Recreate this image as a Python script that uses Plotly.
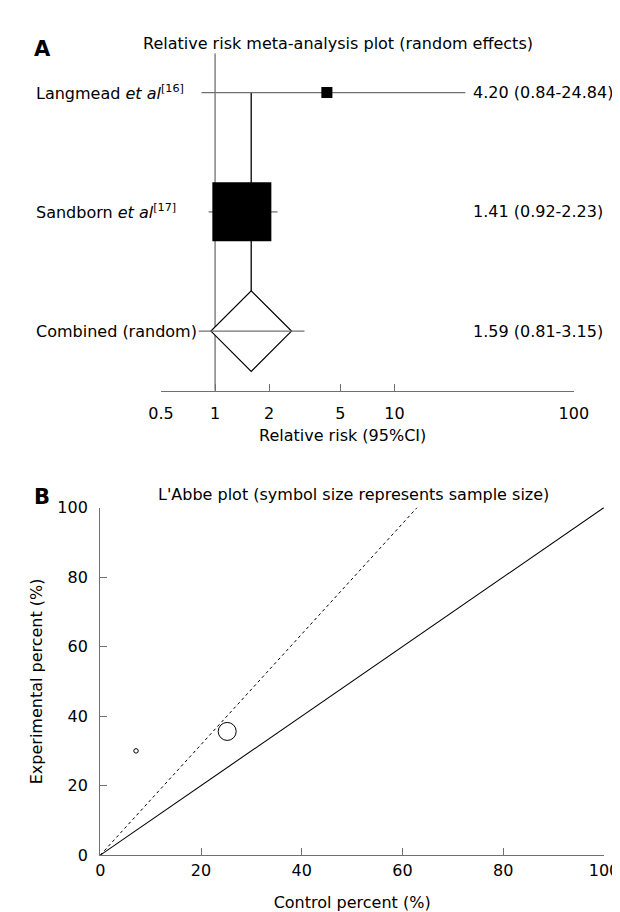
import math
import plotly.graph_objects as go

# ---------------- data ----------------
study_names = ["Langmead <i>et al</i><sup>[16]</sup>", "Sandborn <i>et al</i><sup>[17]</sup>"]
rr = [4.20, 1.41]
rr_lo = [0.84, 0.92]
rr_hi = [24.84, 2.23]
weights = [3.4, 96.6]          # relative weights (box area)
pooled_name = "Combined (random)"
pooled_rr = 1.59
pooled_lo = 0.81
pooled_hi = 3.15
rr_ticks = [0.5, 1, 2, 5, 10, 100]
rr_ticktext = ["0.5", "1", "2", "5", "10", "100"]

control_pct = [7.1, 25.2]
experimental_pct = [30.0, 35.6]
sample_size = [80, 1280]
pct_ticks = [0, 20, 40, 60, 80, 100]

# ---------------- layout helpers ----------------
W, H = 620, 912
FONT = "DejaVu Sans"
GRAY = "#707070"


def px(x):
    return x / W


def py(y):
    return 1 - y / H


fig = go.Figure()

n = len(rr)
rows = [n + 1 - i for i in range(n)]  # 3, 2
pooled_row = 1

# null line at RR = 1
fig.add_trace(go.Scatter(x=[1, 1], y=[0.5, 3.33], mode="lines",
                         line=dict(color=GRAY, width=1.3), xaxis="x", yaxis="y",
                         hoverinfo="skip"))
# pooled estimate vertical line
fig.add_trace(go.Scatter(x=[pooled_rr, pooled_rr], y=[pooled_row, rows[0]], mode="lines",
                         line=dict(color="black", width=1.3), xaxis="x", yaxis="y",
                         hoverinfo="skip"))
# study CIs
for i in range(n):
    fig.add_trace(go.Scatter(x=[rr_lo[i], rr_hi[i]], y=[rows[i], rows[i]], mode="lines",
                             line=dict(color=GRAY, width=1.3), xaxis="x", yaxis="y",
                             hoverinfo="skip"))
# study boxes (size ~ sqrt weight)
wmax = max(weights)
box_sizes = [59 * math.sqrt(w / wmax) for w in weights]
fig.add_trace(go.Scatter(x=rr, y=rows, mode="markers",
                         marker=dict(symbol="square", size=box_sizes, color="black",
                                     opacity=1, line=dict(width=0)),
                         xaxis="x", yaxis="y", hoverinfo="skip"))
# pooled diamond
fig.add_trace(go.Scatter(x=[pooled_rr], y=[pooled_row], mode="markers",
                         marker=dict(symbol="diamond", size=62, color="white", opacity=1,
                                     line=dict(color="black", width=1.2)),
                         xaxis="x", yaxis="y", hoverinfo="skip"))
# pooled CI
fig.add_trace(go.Scatter(x=[pooled_lo, pooled_hi], y=[pooled_row, pooled_row], mode="lines",
                         line=dict(color=GRAY, width=1.3), xaxis="x", yaxis="y",
                         hoverinfo="skip"))

annotations = []
for i in range(n):
    annotations.append(dict(x=px(14), xref="paper", y=rows[i], yref="y", xanchor="left",
                            yanchor="middle", showarrow=False, text=study_names[i],
                            font=dict(size=16)))
    annotations.append(dict(x=px(471), xref="paper", y=rows[i], yref="y", xanchor="left",
                            yanchor="middle", showarrow=False,
                            text=f"{rr[i]:.2f} ({rr_lo[i]:.2f}-{rr_hi[i]:.2f})",
                            font=dict(size=16)))
annotations.append(dict(x=px(14), xref="paper", y=pooled_row, yref="y", xanchor="left",
                        yanchor="middle", showarrow=False, text=pooled_name, font=dict(size=16)))
annotations.append(dict(x=px(471), xref="paper", y=pooled_row, yref="y", xanchor="left",
                        yanchor="middle", showarrow=False,
                        text=f"{pooled_rr:.2f} ({pooled_lo:.2f}-{pooled_hi:.2f})",
                        font=dict(size=16)))
# titles / labels
annotations += [
    dict(x=px(12), y=py(33), xref="paper", yref="paper", xanchor="left", yanchor="middle",
         text="<b>A</b>", showarrow=False, font=dict(size=21)),
    dict(x=px(332), y=py(27), xref="paper", yref="paper", xanchor="center", yanchor="middle",
         text="Relative risk meta-analysis plot (random effects)", showarrow=False,
         font=dict(size=16)),
    dict(x=px(337), y=py(427), xref="paper", yref="paper", xanchor="center", yanchor="middle",
         text="Relative risk (95%CI)", showarrow=False, font=dict(size=16)),
    dict(x=px(12), y=py(490), xref="paper", yref="paper", xanchor="left", yanchor="middle",
         text="<b>B</b>", showarrow=False, font=dict(size=21)),
    dict(x=px(348), y=py(488), xref="paper", yref="paper", xanchor="center", yanchor="middle",
         text="L'Abbe plot (symbol size represents sample size)", showarrow=False,
         font=dict(size=16)),
]

# ---------------- L'Abbe plot ----------------
fig.add_trace(go.Scatter(x=[0, 100], y=[0, 100], mode="lines",
                         line=dict(color="black", width=1.1), xaxis="x2", yaxis="y2",
                         hoverinfo="skip"))
fig.add_trace(go.Scatter(x=[0, 100 / pooled_rr], y=[0, 100], mode="lines",
                         line=dict(color="black", width=1, dash="dot"), xaxis="x2", yaxis="y2",
                         hoverinfo="skip"))
smax = max(sample_size)
circle_sizes = [18 * math.sqrt(s / smax) for s in sample_size]
fig.add_trace(go.Scatter(x=control_pct, y=experimental_pct, mode="markers",
                         marker=dict(symbol="circle-open", size=circle_sizes, color="black",
                                     opacity=1, line=dict(color="black", width=1)),
                         xaxis="x2", yaxis="y2", hoverinfo="skip"))

fig.update_layout(
    width=W, height=H,
    margin=dict(l=0, r=0, t=0, b=0),
    paper_bgcolor="white", plot_bgcolor="white",
    showlegend=False,
    font=dict(family=FONT, size=16, color="black"),
    annotations=annotations,
    xaxis=dict(domain=[px(146.7), px(579)], type="log",
               range=[math.log10(0.5), math.log10(100)],
               tickvals=rr_ticks, ticktext=rr_ticktext, ticks="inside", ticklen=7,
               tickcolor=GRAY, tickwidth=1.3, showline=True, linecolor=GRAY, linewidth=1.3,
               showgrid=False, zeroline=False, anchor="y", ticklabelstandoff=8,
               tickfont=dict(size=16)),
    yaxis=dict(domain=[py(381.7), py(37)], range=[0.5, 3.33], visible=False,
               anchor="x"),
    xaxis2=dict(domain=[px(83), px(610.6)], range=[0, 100], tickvals=pct_ticks,
                ticks="inside", ticklen=7, tickcolor=GRAY, tickwidth=1.3,
                showline=True, linecolor=GRAY, linewidth=1.3, showgrid=False,
                zeroline=False, anchor="y2",
                title=dict(text="Control percent (%)", standoff=18, font=dict(size=16)),
                tickfont=dict(size=16)),
    yaxis2=dict(domain=[py(856), py(501)], range=[0, 100], tickvals=pct_ticks,
                ticks="inside", ticklen=7, tickcolor=GRAY, tickwidth=1.3,
                showline=True, linecolor=GRAY, linewidth=1.3, showgrid=False,
                zeroline=False, anchor="x2", ticklabelstandoff=8,
                title=dict(text="Experimental percent (%)", standoff=10, font=dict(size=16)),
                tickfont=dict(size=16)),
)

fig.write_html("out.html")
